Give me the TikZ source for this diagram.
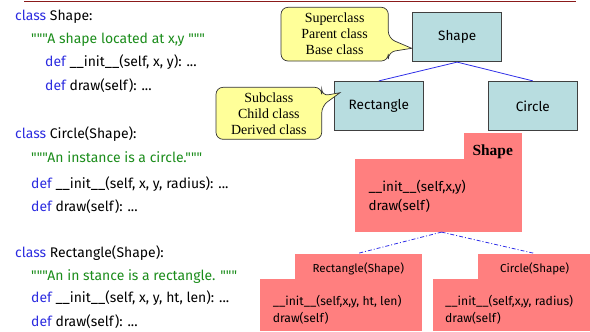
\documentclass[tikz,border=0pt]{standalone}
\usepackage{fontspec}
\setmainfont{Liberation Serif}
\newfontfamily\codefont{Fira Sans}
\definecolor{kwblue}{HTML}{2B2BE0}
\definecolor{docgreen}{HTML}{1A8C1A}
\definecolor{boxblue}{HTML}{B8DDE0}
\definecolor{salmon}{HTML}{FF7F7F}
\definecolor{calloutyellow}{HTML}{FFFF99}
\definecolor{rulered}{HTML}{8B1A1A}
\definecolor{linkblue}{HTML}{2E2EE8}
\tikzset{
  code/.style={anchor=base west, inner sep=0pt, font=\codefont\fontsize{14}{16}\selectfont},
  classbox/.style={draw=black!75, fill=boxblue, line width=0.8pt, minimum width=89bp, minimum height=49bp, inner sep=0pt, font=\codefont\fontsize{13.6}{15}\selectfont},
  redpart/.style={fill=salmon, inner sep=0pt, anchor=north west},
  redtext/.style={anchor=base west, inner sep=0pt, font=\codefont\fontsize{13.5}{15}\selectfont},
  subtext/.style={anchor=base west, inner sep=0pt, font=\codefont\fontsize{12.2}{14}\selectfont},
  tabtext/.style={anchor=base, inner sep=0pt, font=\codefont\fontsize{11.6}{13}\selectfont},
  callouttext/.style={align=center, inner sep=0pt, font=\fontsize{14}{16}\selectfont},
  callshape/.style={draw=black!80, fill=calloutyellow, line width=0.7pt},
  solidlink/.style={draw=linkblue, line width=0.8pt},
  dashlink/.style={draw=linkblue, line width=0.8pt, dash pattern=on 4bp off 2bp on 1bp off 2bp}
}
\newcommand{\kwd}[1]{\textcolor{kwblue}{#1}}
\newcommand{\dstr}[1]{\textcolor{docgreen}{#1}}
\begin{document}
\begin{tikzpicture}[x=1bp,y=-1bp]
\useasboundingbox (0,0) rectangle (590,331);
% top rule
\coordinate (ruleL) at (24,1.5);
\coordinate (ruleR) at (576,1.5);
\draw[rulered, line width=1.2bp] (ruleL) -- (ruleR);

% code
\node[code] (c1) at (15,20) {\kwd{class} Shape:};
\node[code] (c2) at (31,43.3) {\dstr{"""A shape located at x,y """}};
\node[code] (c3) at (45,66.7) {\kwd{def} \_\_init\_\_(self, x, y): ...};
\node[code] (c4) at (45,90.3) {\kwd{def} draw(self): ...};
\node[code] (c5) at (15,138.3) {\kwd{class} Circle(Shape):};
\node[code] (c6) at (31,162.3) {\dstr{"""An instance is a circle."""}};
\node[code] (c7) at (31,188.3) {\kwd{def} \_\_init\_\_(self, x, y, radius): ...};
\node[code] (c8) at (31,211.7) {\kwd{def} draw(self): ...};
\node[code] (c9) at (15,257.3) {\kwd{class} Rectangle(Shape):};
\node[code] (c10) at (31,280) {\dstr{"""An in stance is a rectangle. """}};
\node[code] (c11) at (31,302.7) {\kwd{def} \_\_init\_\_(self, x, y, ht, len): ...};
\node[code] (c12) at (31,326) {\kwd{def} draw(self): ...};

% class tree
\node[classbox] (shape) at (457.2,37.2) {Shape};
\node[classbox] (rect) at (378.8,105.8) {Rectangle};
\node[classbox] (circ) at (532.8,105.8) {Circle};
\draw[solidlink] (shape.south) -- (rect.north);
\draw[solidlink] (shape.south) -- (circ.north);

% callouts
\path[callshape] [rounded corners=7bp] (281,7.3) -- (388.3,7.3) -- (388.3,38.3) [sharp corners] -- (411.7,48.3) [rounded corners=7bp] -- (388.3,52) -- (388.3,61) -- (281,61) -- cycle;
\node[callouttext] (super) at (334.6,34) {Superclass\\Parent class\\Base class};
\path[callshape] [rounded corners=7bp] (216,87.3) -- (321.7,87.3) -- (321.7,96) [sharp corners] -- (340,92.7) [rounded corners=7bp] -- (321.7,106) -- (321.7,139.3) -- (216,139.3) -- cycle;
\node[callouttext] (sub) at (268.8,114) {Subclass\\Child class\\Derived class};

% red blocks: Shape
\node[redpart, minimum width=57.7bp, minimum height=27bp] (stab) at (464,132.3) {};
\node[redpart, minimum width=166.7bp, minimum height=73.4bp] (sbody) at (355,158.3) {};
\node[anchor=base, inner sep=0pt, font=\bfseries\fontsize{15.5}{17}\selectfont] (stitle) at (492.7,155) {Shape};
\node[redtext] (s1) at (368.3,191.7) {\_\_init\_\_(self,x,y)};
\node[redtext] (s2) at (368.3,210) {draw(self)};

% Rectangle(Shape)
\node[redpart, minimum width=127.4bp, minimum height=26.7bp] (rtab) at (294.3,253.3) {};
\node[redpart, minimum width=161.7bp, minimum height=52bp] (rbody) at (260,279) {};
\node[tabtext] (rtitle) at (358.3,272.7) {Rectangle(Shape)};
\node[subtext] (r1) at (272.7,305.7) {\_\_init\_\_(self,x,y, ht, len)};
\node[subtext] (r2) at (272.7,322.7) {draw(self)};

% Circle(Shape)
\node[redpart, minimum width=112.3bp, minimum height=26.7bp] (ctab) at (477.7,253.3) {};
\node[redpart, minimum width=157.7bp, minimum height=52bp] (cbody) at (432.3,279) {};
\node[tabtext] (ctitle) at (534.7,272.7) {Circle(Shape)};
\node[subtext] (k1) at (445,305.7) {\_\_init\_\_(self,x,y, radius)};
\node[subtext] (k2) at (445,322.7) {draw(self)};

\draw[dashlink] (sbody.south) ++(3,0) coordinate (apex) -- (rtab.north);
\draw[dashlink] (apex) -- (ctab.north);
\end{tikzpicture}
\end{document}
